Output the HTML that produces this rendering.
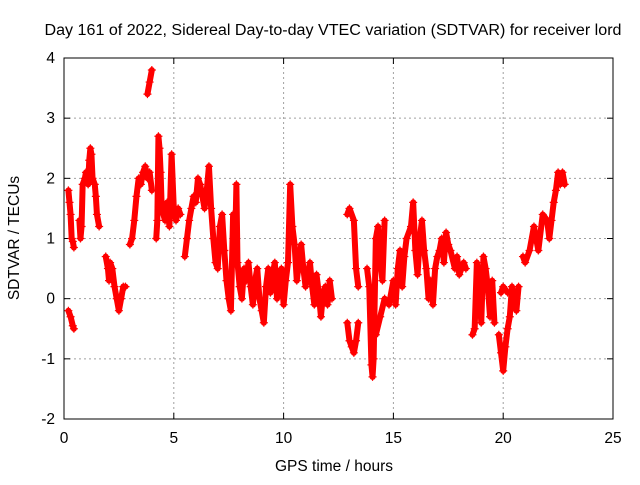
<!DOCTYPE html>
<html><head><meta charset="utf-8"><style>
body{margin:0;background:#fff;width:640px;height:480px;overflow:hidden}
svg{font-family:"Liberation Sans",sans-serif}
</style></head><body>
<svg id="chart" width="640" height="480" xmlns="http://www.w3.org/2000/svg">
<text x="333" y="35" font-size="15.5" text-anchor="middle" textLength="577" lengthAdjust="spacingAndGlyphs">Day 161 of 2022, Sidereal Day-to-day VTEC variation (SDTVAR) for receiver lord</text>
<text x="334" y="471" font-size="15.5" text-anchor="middle">GPS time / hours</text>
<text x="0" y="0" font-size="15.5" text-anchor="middle" transform="translate(19,238) rotate(-90)">SDTVAR / TECUs</text>
<g id="grid"></g><g id="ticks"></g><g id="marks"></g>
<rect x="64" y="58" width="549" height="361" fill="none" stroke="#000" stroke-width="1"/>
</svg>
<script>
const xTicks=[0,5,10,15,20,25];
const yTicks=[-2,-1,0,1,2,3,4];
const times=[0.2,0.25,0.3,0.35,0.4,0.45,null,0.2,0.3,0.4,0.45,null,
0.7,0.75,0.8,0.85,0.95,1.0,1.1,1.15,1.2,1.25,1.3,1.4,1.45,1.5,1.6,null,
1.9,2.0,2.05,2.1,2.2,2.3,2.4,2.5,2.6,2.7,2.8,null,
3.0,3.1,3.2,3.3,3.4,3.5,3.6,3.7,3.8,3.9,4.0,null,3.8,3.9,4.0,null,
4.2,4.25,4.3,4.35,4.4,4.45,4.6,4.7,4.8,4.9,5.0,5.1,5.2,5.3,null,
5.5,5.6,5.7,5.8,5.9,6.0,6.1,6.2,6.3,6.4,6.5,
6.6,6.7,6.8,6.9,7.0,7.1,7.2,7.3,7.4,7.5,7.6,7.7,7.8,7.85,
7.9,8.0,8.1,8.2,8.3,8.4,8.5,8.6,8.7,8.8,8.9,9.0,
9.1,9.2,9.3,9.4,9.5,9.6,9.7,9.8,9.9,10.0,10.1,10.2,10.3,10.4,10.5,
10.6,10.7,10.8,10.9,11.0,11.1,11.2,11.3,11.4,11.5,11.6,11.7,11.8,11.9,12.0,12.1,12.2,null,
12.9,13.0,13.2,13.3,13.4,null,12.9,13.0,13.1,13.2,13.3,13.4,null,
13.8,13.9,14.0,14.05,14.1,14.2,14.3,14.4,14.5,14.6,null,14.0,14.2,14.4,14.6,14.8,
15.0,15.1,15.2,15.3,15.4,15.5,15.6,15.8,15.9,16.0,16.1,16.2,16.3,16.4,16.5,16.6,16.7,16.8,16.9,17.0,
17.1,17.2,17.3,17.4,17.5,17.6,17.8,17.9,18.0,18.2,18.3,null,
18.6,18.7,18.8,18.9,19.0,19.1,19.2,19.3,19.4,19.5,19.6,null,
19.8,19.9,20.0,20.1,20.2,20.3,20.4,20.5,20.6,20.7,null,19.9,20.0,20.2,null,
20.9,21.0,21.2,21.4,21.6,21.8,22.0,22.1,22.2,22.3,22.4,22.5,22.6,22.7,22.8];
const values=[1.8,1.6,1.4,1.0,0.95,0.85,null,-0.2,-0.3,-0.45,-0.5,null,
1.3,1.0,1.2,1.9,2.0,2.1,1.9,2.3,2.5,2.4,2.0,1.9,1.7,1.4,1.2,null,
0.7,0.5,0.3,0.6,0.5,0.2,0.0,-0.2,0.0,0.2,0.2,null,
0.9,1.0,1.3,1.7,2.0,1.9,2.1,2.2,2.0,2.1,1.8,null,3.4,3.6,3.8,null,
1.0,1.3,2.7,2.5,2.1,1.5,1.3,1.6,1.2,2.4,1.5,1.3,1.5,1.4,null,
0.7,1.0,1.3,1.5,1.7,1.6,2.0,1.9,1.7,1.5,1.8,
2.2,1.5,1.0,0.6,0.5,1.2,1.4,0.8,0.3,0.0,-0.2,1.4,1.0,1.9,
0.6,0.2,0.0,0.5,0.3,0.6,0.2,-0.1,0.3,0.5,0.0,-0.2,
-0.4,0.2,0.5,0.1,0.4,0.6,0.0,0.3,0.5,-0.1,0.3,0.6,1.9,1.2,0.9,
0.3,0.6,0.9,0.5,0.2,0.4,0.6,0.2,-0.1,0.4,0.1,-0.3,0.1,0.2,-0.1,0.3,0.0,null,
1.4,1.5,1.3,0.5,0.2,null,-0.4,-0.7,-0.8,-0.9,-0.7,-0.4,null,
0.5,0.2,-1.1,-1.3,-1.0,1.0,1.2,0.6,0.3,1.3,null,-0.3,-0.6,-0.3,0.0,-0.1,
0.3,-0.1,0.5,0.8,0.2,0.7,1.0,1.2,1.6,0.8,0.4,1.0,1.3,0.8,0.5,0.0,0.3,-0.1,0.5,0.7,
0.8,1.0,0.6,1.1,0.9,0.8,0.5,0.7,0.4,0.6,0.5,null,
-0.6,-0.5,0.6,0.3,-0.4,0.7,0.5,0.2,-0.3,0.3,-0.4,null,
-0.6,-0.9,-1.2,-0.8,-0.5,-0.3,0.2,0.0,-0.2,0.2,null,0.1,0.2,0.1,null,
0.7,0.6,0.8,1.2,0.8,1.4,1.3,1.0,1.3,1.6,1.8,2.1,1.9,2.1,1.9];
const X0=64,X1=613,Y0=419,Y1=58;
const xs=t=>X0+(t-0)/(25-0)*(X1-X0);
const ys=v=>Y0-(v+2)/(4+2)*(Y0-Y1);
const NS="http://www.w3.org/2000/svg";
const grid=document.getElementById('grid'),tk=document.getElementById('ticks'),mk=document.getElementById('marks');
function mk_(tag,attrs,parent){const e=document.createElementNS(NS,tag);for(const k in attrs)e.setAttribute(k,attrs[k]);parent.appendChild(e);return e;}
xTicks.forEach(t=>{const x=xs(t);
 if(t>0&&t<25){const g=mk_('line',{x1:x,x2:x,y1:Y0,y2:Y1,stroke:'#a0a0a0','stroke-dasharray':'2,3','stroke-width':1},grid);
 
 }
 const l=mk_('text',{x:x,y:443,'font-size':15.5,'text-anchor':'middle'},tk);l.textContent=t;
 
 
 mk_('line',{x1:x,x2:x,y1:Y0,y2:Y0-6,stroke:'#000'},tk);mk_('line',{x1:x,x2:x,y1:Y1,y2:Y1+6,stroke:'#000'},tk);});
yTicks.forEach(v=>{const y=ys(v);
 if(v>-2&&v<4){const g=mk_('line',{x1:X0,x2:X1,y1:y,y2:y,stroke:'#a0a0a0','stroke-dasharray':'2,3','stroke-width':1},grid);
 
 }
 const l=mk_('text',{x:55,y:y+5,'font-size':15.5,'text-anchor':'end'},tk);l.textContent=v;
 
 
 mk_('line',{x1:X0,x2:X0+6,y1:y,y2:y,stroke:'#000'},tk);mk_('line',{x1:X1,x2:X1-6,y1:y,y2:y,stroke:'#000'},tk);});
let seg=[];
function flush(){if(seg.length>1){const p=mk_('polyline',{points:seg.join(' '),fill:'none',stroke:'#f00','stroke-width':6,'stroke-linejoin':'round','stroke-linecap':'round'},mk);
 
 }seg=[];}
for(let i=0;i<times.length;i++){
 if(times[i]===null){flush();continue;}
 const x=xs(times[i]),y=ys(values[i]);seg.push(x+','+y);
 const m=mk_('path',{d:`M${x-4},${y}H${x+4}M${x},${y-4}V${y+4}`,stroke:'#f00','stroke-width':1.2},mk);
 
 
}
flush();
</script>
</body></html>
